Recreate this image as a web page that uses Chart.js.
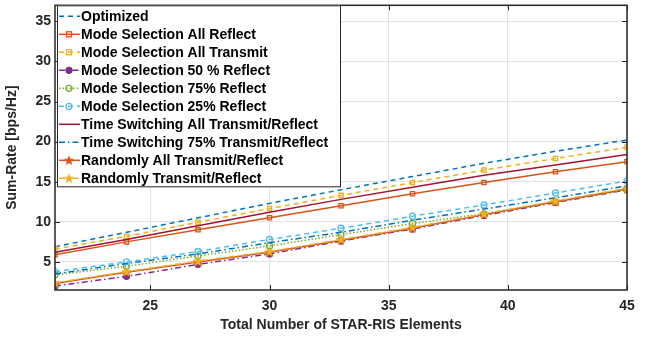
<!DOCTYPE html>
<html>
<head>
<meta charset="utf-8">
<script src="https://cdn.jsdelivr.net/npm/chart.js@4.4.1/dist/chart.umd.min.js"></script>
<style>
  html, body { margin: 0; padding: 0; background: #fff; }
</style>
</head>
<body>
<canvas id="chart" width="654" height="338"></canvas>
<script>
// x values (number of STAR-RIS elements) and tick labels
const elements = [21, 24, 27, 30, 33, 36, 39, 42, 45];
const xTicks = [25, 30, 35, 40, 45];
const yTicks = [5, 10, 15, 20, 25, 30, 35];

// sum-rate values
const optimized      = [6.9, 8.7, 10.5, 12.3, 14.0, 15.65, 17.3, 18.8, 20.2];
const msAllReflect   = [5.9, 7.5, 9.0, 10.5, 12.0, 13.5, 14.9, 16.25, 17.5];
const msAllTransmit  = [6.6, 8.2, 9.95, 11.66, 13.3, 14.9, 16.45, 17.9, 19.3];
const ms50Reflect    = [2.0, 3.2, 4.7, 6.0, 7.6, 9.1, 10.8, 12.4, 14.0];
const ms75Reflect    = [3.4, 4.45, 5.75, 7.0, 8.4, 9.8, 11.0, 12.5, 14.0];
const ms25Reflect    = [3.8, 5.0, 6.3, 7.8, 9.2, 10.7, 12.1, 13.6, 15.1];
const tsAll          = [6.2, 7.8, 9.5, 11.2, 12.8, 14.3, 15.8, 17.1, 18.4];
const ts75           = [3.5, 4.8, 6.0, 7.4, 8.7, 10.2, 11.6, 13.0, 14.5];
const randAll        = [2.3, 3.7, 5.0, 6.2, 7.7, 9.2, 10.9, 12.5, 14.1];
const randTR         = [2.4, 3.8, 5.1, 6.3, 7.8, 9.3, 11.0, 12.6, 14.2];

const labels = [
    'Optimized',
    'Mode Selection All Reflect',
    'Mode Selection All Transmit',
    'Mode Selection 50 % Reflect',
    'Mode Selection 75% Reflect',
    'Mode Selection 25% Reflect',
    'Time Switching All Transmit/Reflect',
    'Time Switching 75% Transmit/Reflect',
    'Randomly All Transmit/Reflect',
    'Randomly Transmit/Reflect'
];
const values = [optimized, msAllReflect, msAllTransmit, ms50Reflect, ms75Reflect,
                ms25Reflect, tsAll, ts75, randAll, randTR];

const FONT = "'Liberation Sans', Arial, sans-serif";
const DASH = [5, 4], DOT = [1.5, 2], DASHDOT = [6, 3, 1.5, 3];

function makeStar(color) {
    const c = document.createElement('canvas');
    c.width = 12; c.height = 12;
    const g = c.getContext('2d');
    g.beginPath();
    for (let i = 0; i < 10; i++) {
        const r = i % 2 === 0 ? 5.5 : 2.3;
        const a = -Math.PI / 2 + i * Math.PI / 5;
        g.lineTo(6 + r * Math.cos(a), 6.4 + r * Math.sin(a));
    }
    g.closePath();
    g.fillStyle = color;
    g.fill();
    return c;
}

// line style per series: colour, dash, marker, filled marker
const styles = [
    {color: '#0072BD', dash: DASH, marker: null},
    {color: '#D95319', dash: [], marker: 'rect', fill: false},
    {color: '#EDB120', dash: DASH, marker: 'rect', fill: false},
    {color: '#7E2F8E', dash: DASHDOT, marker: 'circle', fill: true},
    {color: '#77AC30', dash: DOT, marker: 'circle', fill: false},
    {color: '#4DBEEE', dash: DASH, marker: 'circle', fill: false},
    {color: '#A2142F', dash: [], marker: null},
    {color: '#0072BD', dash: DASHDOT, marker: null},
    {color: '#D95319', dash: [], marker: makeStar('#D95319')},
    {color: '#EDB120', dash: DASHDOT, marker: makeStar('#EDB120')}
];

const datasets = values.map((v, i) => {
    const s = styles[i];
    return {
        label: labels[i],
        data: v,
        borderColor: s.color,
        borderWidth: 1.5,
        borderDash: s.dash,
        pointStyle: s.marker || 'circle',
        pointRadius: s.marker ? 3 : 0,
        pointBorderWidth: 1.3,
        pointBorderColor: s.color,
        pointBackgroundColor: s.fill ? s.color : 'rgba(0,0,0,0)',
        tension: 0,
        fill: false,
        order: 20 - i
    };
});

// axes box with inward ticks, like the original figure
const boxPlugin = {
    id: 'box',
    afterDatasetsDraw(chart) {
        const {ctx, chartArea: a, scales} = chart;
        ctx.save();
        ctx.strokeStyle = '#262626';
        ctx.lineWidth = 1.5;
        ctx.setLineDash([]);
        ctx.strokeRect(a.left, a.top, a.right - a.left, a.bottom - a.top);
        ctx.lineWidth = 1;
        ctx.beginPath();
        yTicks.forEach(v => {
            const y = Math.round(scales.y.getPixelForValue(v)) + 0.5;
            ctx.moveTo(a.left, y); ctx.lineTo(a.left + 5, y);
            ctx.moveTo(a.right, y); ctx.lineTo(a.right - 5, y);
        });
        xTicks.forEach(v => {
            const x = Math.round(scales.x.getPixelForValue(v)) + 0.5;
            ctx.moveTo(x, a.bottom); ctx.lineTo(x, a.bottom - 5);
            ctx.moveTo(x, a.top); ctx.lineTo(x, a.top + 5);
        });
        ctx.stroke();
        ctx.restore();
    }
};

// legend box in the upper left corner of the axes
const legendPlugin = {
    id: 'boxLegend',
    afterDraw(chart) {
        const {ctx, chartArea: a} = chart;
        const left = a.left + 2, top = a.top, width = 283, rowH = 18;
        const height = labels.length * rowH + 1;
        ctx.save();
        ctx.fillStyle = '#fff';
        ctx.fillRect(left, top, width, height);
        ctx.strokeStyle = '#262626';
        ctx.lineWidth = 1;
        ctx.strokeRect(left + 0.5, top + 0.5, width, height);
        ctx.font = 'bold 14px ' + FONT;
        ctx.textBaseline = 'middle';
        labels.forEach((name, i) => {
            const s = styles[i];
            const y = top + 11 + i * rowH;
            ctx.strokeStyle = s.color;
            ctx.lineWidth = 1.5;
            ctx.setLineDash(s.dash);
            ctx.beginPath();
            ctx.moveTo(left + 2, y);
            ctx.lineTo(left + 23, y);
            ctx.stroke();
            ctx.setLineDash([]);
            const mx = left + 12;
            if (s.marker instanceof HTMLCanvasElement) {
                ctx.drawImage(s.marker, mx - 6, y - 6);
            } else if (s.marker === 'rect') {
                ctx.lineWidth = 1.3;
                ctx.strokeRect(mx - 2.5, y - 2.5, 5, 5);
            } else if (s.marker === 'circle') {
                ctx.lineWidth = 1.3;
                ctx.beginPath();
                ctx.arc(mx, y, 3, 0, Math.PI * 2);
                if (s.fill) { ctx.fillStyle = s.color; ctx.fill(); }
                ctx.stroke();
            }
            ctx.fillStyle = '#000';
            ctx.fillText(name, left + 24, y + 0.5);
        });
        ctx.restore();
    }
};

new Chart(document.getElementById('chart'), {
    type: 'line',
    data: {labels: elements, datasets: datasets},
    options: {
        responsive: false,
        animation: false,
        layout: {padding: {top: 5, right: 27, left: 0, bottom: 0}},
        plugins: {legend: {display: false}, tooltip: {enabled: false}},
        scales: {
            x: {
                type: 'linear',
                min: 21,
                max: 45,
                afterBuildTicks: scale => { scale.ticks = xTicks.map(v => ({value: v})); },
                afterFit: scale => {
                    scale.height = 48;
                    scale.paddingLeft = 0;
                    scale.paddingRight = 0;
                },
                grid: {color: '#e3e3e3', drawTicks: false},
                border: {display: false},
                ticks: {
                    autoSkip: false,
                    maxRotation: 0,
                    padding: 8,
                    color: '#262626',
                    font: {family: FONT, size: 14, weight: 'bold'}
                },
                title: {
                    display: true,
                    text: 'Total Number of STAR-RIS Elements',
                    color: '#262626',
                    padding: {top: 0, bottom: 4},
                    font: {family: FONT, size: 14, weight: 'bold'}
                }
            },
            y: {
                min: 1.5,
                max: 37,
                afterBuildTicks: scale => { scale.ticks = yTicks.map(v => ({value: v})); },
                afterFit: scale => {
                    scale.width = 55;
                    scale.paddingTop = 0;
                    scale.paddingBottom = 0;
                },
                grid: {color: '#e3e3e3', drawTicks: false},
                border: {display: false},
                ticks: {
                    padding: 4,
                    color: '#262626',
                    font: {family: FONT, size: 14, weight: 'bold'}
                },
                title: {
                    display: true,
                    text: 'Sum-Rate [bps/Hz]',
                    color: '#262626',
                    padding: {top: 4, bottom: 0},
                    font: {family: FONT, size: 14, weight: 'bold'}
                }
            }
        }
    },
    plugins: [boxPlugin, legendPlugin]
});
</script>
</body>
</html>
